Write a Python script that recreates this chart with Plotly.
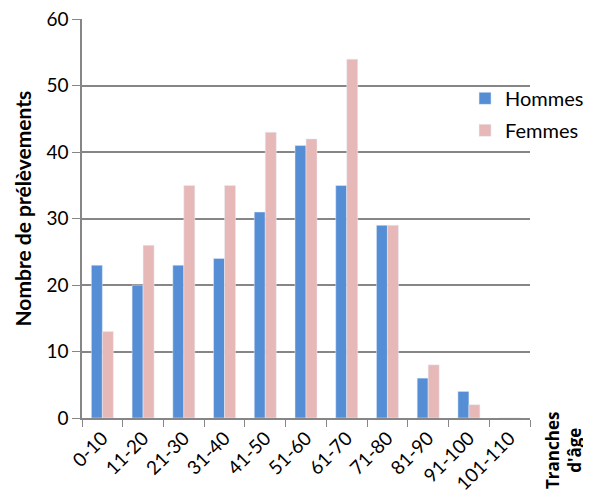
import plotly.graph_objects as go

categories = ["0-10", "11-20", "21-30", "31-40", "41-50", "51-60", "61-70", "71-80", "81-90", "91-100", "101-110"]
hommes = [23, 20, 23, 24, 31, 41, 35, 29, 6, 4, 0]
femmes = [13, 26, 35, 35, 43, 42, 54, 29, 8, 2, 0]

font_family = "Lato, Open Sans, sans-serif"

fig = go.Figure()
fig.add_trace(go.Bar(name="Hommes", x=categories, y=hommes, marker_color="#558ED5", legendgroup="h"))
fig.add_trace(go.Bar(name="Femmes", x=categories, y=femmes, marker_color="#E6B9B8", legendgroup="f"))

fig.update_layout(
    width=591, height=498,
    margin=dict(l=74, r=69, t=11, b=88, autoexpand=False),
    barmode="group", bargap=0.46, bargroupgap=0,
    paper_bgcolor="white", plot_bgcolor="white",
    font=dict(family=font_family, size=16, color="#000000"),
    showlegend=True,
    legend=dict(x=0.855, y=0.85, xanchor="left", yanchor="top",
                bgcolor="rgba(0,0,0,0)", font=dict(size=20),
                itemwidth=30, tracegroupgap=3),
    xaxis=dict(
        type="category", tickangle=-45, showline=True, linecolor="#868686", linewidth=1.5,
        ticks="outside", tickson="boundaries", ticklen=7, tickcolor="#868686", showgrid=False,
        tickfont=dict(size=19), automargin=False, ticklabeloverflow="allow",
    ),
    yaxis=dict(
        range=[0, 60.05], tickvals=[0, 10, 20, 30, 40, 50, 60], showline=True,
        linecolor="#868686", linewidth=1.5,
        ticks="outside", ticklen=8, tickcolor="#868686",
        showgrid=True, gridcolor="#868686", gridwidth=1.5,
        tickfont=dict(size=19), automargin=False, ticklabeloverflow="allow",
    ),
    annotations=[
        dict(text="<b>Nombre de prélèvements</b>", textangle=-90, xref="paper", yref="paper",
             x=-0.133, y=0.526, xanchor="center", yanchor="middle", showarrow=False,
             font=dict(size=21)),
        dict(text="<b>Tranches<br>d'âge</b>", textangle=-90, xref="paper", yref="paper",
             x=1.02, y=0.02, xanchor="left", yanchor="top", showarrow=False,
             font=dict(size=17, family="Open Sans, sans-serif"), align="center"),
    ],
)

fig.write_html("out.html")
